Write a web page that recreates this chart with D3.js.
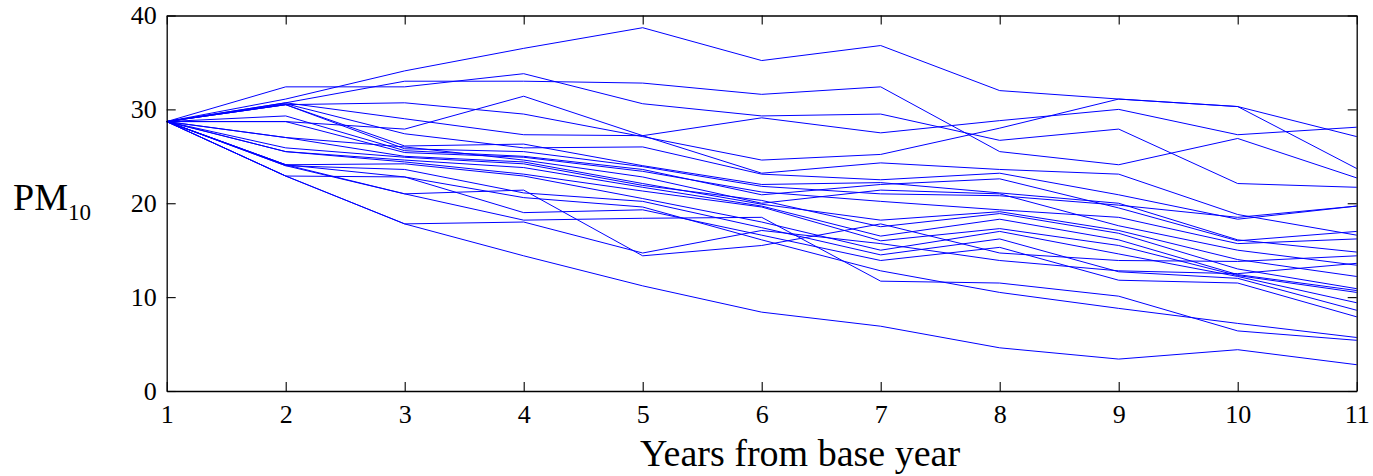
<!DOCTYPE html>
<html>
<head>
<meta charset="utf-8">
<script src="https://cdn.jsdelivr.net/npm/d3@7"></script>
<style>
    body { margin: 0; background: #fff; }
    svg { display: block; font-family: 'Liberation Serif', 'Times New Roman', serif; }
    .run { fill: none; stroke: #0000ff; stroke-width: 1; }
</style>
</head>
<body>
<div class="holder"></div>
<script>
// years from base year
const years = [1, 2, 3, 4, 5, 6, 7, 8, 9, 10, 11]
const yTicks = [0, 10, 20, 30, 40]

// PM10 per simulation run
const run01 = [28.7, 31.1, 34.1, 36.5, 38.7, 35.2, 36.8, 32.0, 31.1, 30.3, 23.7]
const run02 = [28.7, 32.4, 32.4, 33.8, 30.6, 29.3, 29.5, 26.7, 27.9, 22.1, 21.7]
const run03 = [28.7, 30.7, 33.0, 33.0, 32.8, 31.6, 32.4, 25.5, 24.1, 26.9, 22.7]
const run04 = [28.7, 28.7, 27.9, 31.4, 27.2, 29.1, 27.5, 28.8, 30.0, 27.3, 28.1]
const run05 = [28.7, 30.5, 30.7, 29.5, 27.1, 24.6, 25.2, 28.0, 31.1, 30.3, 27.1]
const run06 = [28.7, 22.9, 17.8, 14.4, 11.2, 8.4, 6.9, 4.6, 3.4, 4.4, 2.8]
const run07 = [28.7, 22.9, 17.8, 18.0, 14.7, 17.1, 15.7, 13.9, 12.8, 12.5, 13.6]
const run08 = [28.7, 24.0, 21.0, 18.2, 18.4, 18.5, 11.7, 11.5, 10.1, 6.4, 5.4]
const run09 = [28.7, 24.1, 21.0, 21.4, 14.4, 15.5, 17.8, 14.7, 13.9, 13.8, 14.4]
const run10 = [28.7, 22.9, 22.8, 20.6, 19.6, 16.1, 12.8, 10.5, 8.8, 7.2, 5.7]
const run11 = [28.7, 30.7, 29.0, 27.3, 27.2, 23.2, 24.3, 23.6, 23.1, 18.8, 16.6]
const run12 = [28.7, 30.6, 27.4, 25.9, 26.0, 23.1, 22.5, 23.2, 20.9, 18.3, 19.7]
const run13 = [28.7, 30.5, 26.1, 26.3, 24.0, 22.0, 22.2, 21.1, 20.0, 16.1, 14.8]
const run14 = [28.7, 30.5, 25.8, 25.5, 23.9, 21.8, 21.0, 20.8, 19.8, 18.5, 19.7]
const run15 = [28.7, 29.3, 25.6, 25.0, 23.6, 20.9, 22.0, 22.6, 19.5, 16.0, 17.0]
const run16 = [28.7, 28.7, 25.4, 24.9, 23.4, 21.2, 20.2, 19.3, 18.5, 15.7, 16.2]
const run17 = [28.7, 27.0, 26.0, 24.6, 22.8, 20.0, 21.4, 21.0, 17.6, 15.0, 13.4]
const run18 = [28.7, 27.0, 25.0, 24.4, 22.1, 19.9, 18.2, 19.1, 17.1, 14.0, 12.2]
const run19 = [28.7, 25.9, 24.9, 24.2, 21.9, 20.3, 17.5, 18.9, 16.8, 13.0, 10.9]
const run20 = [28.7, 25.5, 24.6, 23.8, 21.7, 19.7, 16.5, 18.3, 16.1, 12.4, 10.7]
const run21 = [28.7, 25.5, 24.4, 23.1, 21.3, 19.6, 16.0, 17.3, 15.5, 12.3, 10.5]
const run22 = [28.7, 24.1, 24.2, 22.9, 20.5, 18.0, 15.0, 17.0, 14.6, 12.2, 9.4]
const run23 = [28.7, 24.0, 23.6, 21.1, 20.2, 17.4, 14.5, 16.2, 12.7, 12.0, 8.6]
const run24 = [28.7, 24.1, 22.8, 19.0, 19.3, 16.6, 13.9, 15.3, 11.8, 11.5, 7.9]

const runs = [run01, run02, run03, run04, run05, run06, run07, run08, run09, run10, run11, run12,
    run13, run14, run15, run16, run17, run18, run19, run20, run21, run22, run23, run24]

function init() {
    const width = 1373
    const height = 476
    const left = 166.7
    const right = 1356.7
    const top = 15.5
    const bottom = 391
    const tickLen = 9

    const svg = d3.select('.holder')
        .append('svg')
        .attr('width', width)
        .attr('height', height)

    const xScale = d3.scaleLinear()
        .domain([1, 11])
        .range([left, right])

    const yScale = d3.scaleLinear()
        .domain([0, 40])
        .range([bottom, top])

    const line = d3.line()
        .x((d, i) => xScale(years[i]))
        .y(d => yScale(d))

    svg.append('g')
        .selectAll('path')
        .data(runs)
        .enter()
        .append('path')
        .attr('class', 'run')
        .attr('d', d => line(d))

    // box style axes, ticks pointing inward on all four sides
    const xAxisBottom = d3.axisBottom(xScale).tickValues(years).tickSize(-tickLen).tickPadding(14).tickFormat(d3.format('d'))
    const xAxisTop = d3.axisTop(xScale).tickValues(years).tickSize(-tickLen).tickFormat('')
    const yAxisLeft = d3.axisLeft(yScale).tickValues(yTicks).tickSize(-tickLen).tickPadding(10)
    const yAxisRight = d3.axisRight(yScale).tickValues(yTicks).tickSize(-tickLen).tickFormat('')

    const axes = [
        [xAxisBottom, `translate(0, ${bottom})`],
        [xAxisTop, `translate(0, ${top})`],
        [yAxisLeft, `translate(${left}, 0)`],
        [yAxisRight, `translate(${right}, 0)`]
    ]

    axes.forEach(([axis, tr]) => {
        const g = svg.append('g')
            .attr('transform', tr)
            .call(axis.tickSizeOuter(0))
        g.select('.domain').attr('stroke', '#000').attr('stroke-width', 1.3)
        g.selectAll('.tick line').attr('stroke', '#000').attr('stroke-width', 1.1)
        g.selectAll('.tick text')
            .style('font-family', 'Liberation Serif, serif')
            .style('font-size', '26px')
            .attr('fill', '#000')
    })

    svg.append('text')
        .attr('x', 800)
        .attr('y', 466)
        .attr('text-anchor', 'middle')
        .style('font-size', '38px')
        .text('Years from base year')

    const yLabel = svg.append('text')
        .attr('x', 13)
        .attr('y', 210)
        .style('font-size', '38px')
    yLabel.append('tspan').text('PM')
    yLabel.append('tspan')
        .attr('dy', 10)
        .style('font-size', '23px')
        .text('10')
}

init()
</script>
</body>
</html>
